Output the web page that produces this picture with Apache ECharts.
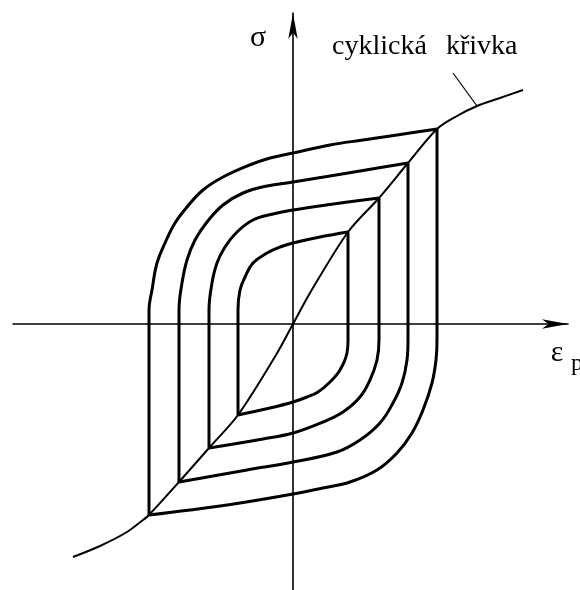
<!DOCTYPE html>
<html>
<head>
<meta charset="utf-8">
<script src="https://cdn.jsdelivr.net/npm/echarts@6/dist/echarts.min.js"></script>
<style>
  html, body { margin: 0; padding: 0; background: #fff; }
  #chart { width: 580px; height: 590px; }
</style>
</head>
<body>
<div id="chart"></div>
<script>
// Plastic strain (εp) vs stress (σ), arbitrary units, origin at the axes crossing.

// Cyclic stress–strain curve through the loop tips
const cyclicCurve = [
  [-2.20, -2.33], [-1.93, -2.22], [-1.66, -2.08], [-1.50, -1.96], [-1.44, -1.91],
  [-1.14, -1.58], [-0.84, -1.24], [-0.55, -0.91], [-0.17, -0.31], [0, 0],
  [0.17, 0.31], [0.55, 0.92], [0.86, 1.26], [1.15, 1.61], [1.44, 1.95],
  [1.64, 2.08], [1.84, 2.18], [2.04, 2.25], [2.30, 2.34]
];

// Hysteresis loops: upper branch (loading) and lower branch (unloading)
const loop1Upper = [[-0.55, -0.91], [-0.55, 0.14], [-0.53, 0.34], [-0.48, 0.47], [-0.40, 0.61], [-0.26, 0.71], [-0.13, 0.77], [0, 0.81], [0.27, 0.87], [0.55, 0.92]];
const loop1Lower = [[0.55, 0.92], [0.55, -0.16], [0.54, -0.29], [0.47, -0.46], [0.37, -0.58], [0.25, -0.68], [0.14, -0.73], [0, -0.78], [-0.23, -0.84], [-0.55, -0.91]];

const loop2Upper = [[-0.84, -1.24], [-0.84, 0.14], [-0.81, 0.41], [-0.76, 0.61], [-0.68, 0.77], [-0.56, 0.92], [-0.40, 1.04], [-0.20, 1.10], [0, 1.14], [0.37, 1.195], [0.86, 1.26]];
const loop2Lower = [[0.86, 1.26], [0.86, -0.16], [0.84, -0.36], [0.77, -0.56], [0.67, -0.73], [0.50, -0.88], [0.30, -0.98], [0, -1.09], [-0.30, -1.15], [-0.84, -1.24]];

const loop3Upper = [[-1.14, -1.58], [-1.14, 0.14], [-1.11, 0.41], [-1.06, 0.64], [-0.98, 0.84], [-0.86, 1.02], [-0.70, 1.19], [-0.50, 1.31], [-0.26, 1.38], [0, 1.42], [0.37, 1.48], [0.70, 1.535], [1.15, 1.61]];
const loop3Lower = [[1.15, 1.61], [1.15, -0.16], [1.14, -0.36], [1.09, -0.59], [1.00, -0.79], [0.87, -0.99], [0.67, -1.16], [0.44, -1.28], [0, -1.38], [-0.46, -1.46], [-0.80, -1.52], [-1.14, -1.58]];

const loop4Upper = [[-1.44, -1.91], [-1.44, 0.14], [-1.41, 0.34], [-1.36, 0.61], [-1.28, 0.81], [-1.18, 1.01], [-1.06, 1.17], [-0.90, 1.34], [-0.70, 1.47], [-0.46, 1.58], [-0.23, 1.66], [0, 1.71], [0.37, 1.79], [0.70, 1.84], [1.04, 1.89], [1.44, 1.95]];
const loop4Lower = [[1.44, 1.95], [1.44, -0.16], [1.43, -0.36], [1.39, -0.59], [1.30, -0.86], [1.19, -1.09], [1.04, -1.29], [0.84, -1.46], [0.57, -1.58], [0.30, -1.64], [0, -1.70], [-0.53, -1.79], [-1.03, -1.86], [-1.44, -1.91]];

// Leader line from the caption to the cyclic curve
const leaderLine = [[1.60, 2.51], [1.84, 2.18]];

// Text
const captionWords = ['cyklická', 'křivka'];
const yAxisName = 'σ';
const xAxisName = 'ε';
const xAxisSub = 'p';

const chart = echarts.init(document.getElementById('chart'), null, { renderer: 'canvas' });

const axisCommon = {
  type: 'value',
  axisLine: {
    show: true,
    onZero: true,
    symbol: ['none', 'arrow'],
    symbolSize: [7, 26],
    lineStyle: { color: '#000', width: 1.6 }
  },
  axisTick: { show: false },
  axisLabel: { show: false },
  splitLine: { show: false }
};

function branch(data, width, smooth) {
  return {
    type: 'line',
    data: data,
    showSymbol: false,
    smooth: smooth,
    silent: true,
    lineStyle: { color: '#000', width: width },
    z: 3
  };
}

const textStyle = { fontFamily: 'Liberation Serif', fill: '#000' };

chart.setOption({
  backgroundColor: '#fff',
  animation: false,
  grid: { left: 13, right: 12, top: 13, bottom: 0 },
  xAxis: Object.assign({}, axisCommon, { min: -2.80, max: 2.75 }),
  yAxis: Object.assign({}, axisCommon, { min: -2.66, max: 3.11 }),
  series: [
    branch(cyclicCurve, 2, 0.3),
    branch(loop1Upper, 3, 0.4), branch(loop1Lower, 3, 0.4),
    branch(loop2Upper, 3, 0.4), branch(loop2Lower, 3, 0.4),
    branch(loop3Upper, 3, 0.4), branch(loop3Lower, 3, 0.4),
    branch(loop4Upper, 3, 0.4), branch(loop4Lower, 3, 0.4),
    branch(leaderLine, 1.2, false)
  ],
  graphic: [
    {
      type: 'text', x: 258, y: 38,
      style: Object.assign({ text: yAxisName, fontSize: 30, align: 'center', verticalAlign: 'middle' }, textStyle)
    },
    {
      type: 'text', x: 332, y: 47,
      style: Object.assign({ text: captionWords[0], fontSize: 28, align: 'left', verticalAlign: 'middle' }, textStyle)
    },
    {
      type: 'text', x: 446, y: 47,
      style: Object.assign({ text: captionWords[1], fontSize: 28, align: 'left', verticalAlign: 'middle' }, textStyle)
    },
    {
      type: 'text', x: 557, y: 353,
      style: Object.assign({ text: xAxisName, fontSize: 30, align: 'center', verticalAlign: 'middle' }, textStyle)
    },
    {
      type: 'text', x: 571, y: 364,
      style: Object.assign({ text: xAxisSub, fontSize: 24, align: 'left', verticalAlign: 'middle' }, textStyle)
    }
  ]
});
</script>
</body>
</html>
